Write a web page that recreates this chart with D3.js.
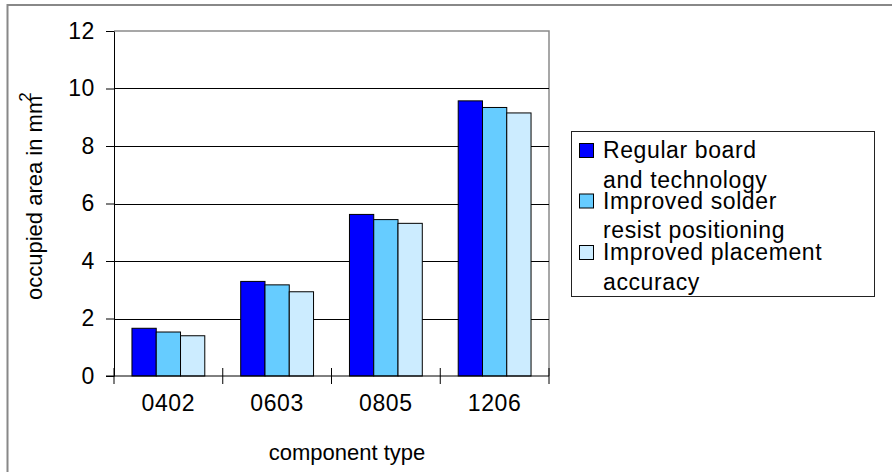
<!DOCTYPE html>
<html>
<head>
<meta charset="utf-8">
<script src="https://cdn.jsdelivr.net/npm/d3@7/dist/d3.min.js"></script>
<style>
  html, body { margin: 0; padding: 0; background: #fff; }
  svg { display: block; font-family: "Liberation Sans", Arial, sans-serif; }
</style>
</head>
<body>
<svg id="chart" width="892" height="472"></svg>
<script>
// Component footprint data (occupied area in mm²)
const categories = ["0402", "0603", "0805", "1206"];
const seriesNames = [
  ["Regular board", "and technology"],
  ["Improved solder", "resist positioning"],
  ["Improved placement", "accuracy"]
];
const regularBoard = [1.66, 3.29, 5.62, 9.57];
const improvedSolder = [1.53, 3.17, 5.44, 9.34];
const improvedPlacement = [1.40, 2.93, 5.31, 9.15];
const yTickValues = [0, 2, 4, 6, 8, 10, 12];
const seriesColors = ["#0000FF", "#66CCFF", "#CCECFF"];

const seriesValues = [regularBoard, improvedSolder, improvedPlacement];
const seriesKeys = ["regular", "solder", "placement"];

const svg = d3.select("#chart");

// Outer chart frame
svg.append("rect")
  .attr("x", 7.5).attr("y", 5)
  .attr("width", 900).attr("height", 480)
  .attr("fill", "#fff")
  .attr("stroke", "#888").attr("stroke-width", 2);

const plot = { left: 114, right: 549, top: 31, bottom: 376 };

const x0 = d3.scaleBand().domain(categories).range([plot.left, plot.right]).padding(0);
const x1 = d3.scaleBand().domain(seriesKeys).range([0, x0.bandwidth()])
  .paddingInner(0).paddingOuter(0.74);
const y = d3.scaleLinear().domain([0, 12]).range([plot.bottom, plot.top]);

// Plot area border (top and right)
svg.append("path")
  .attr("d", `M${plot.left},${y(12)}H${plot.right}V${plot.bottom}`)
  .attr("fill", "none").attr("stroke", "#8a8a8a").attr("stroke-width", 1.5);

// Horizontal gridlines
svg.append("g").selectAll("line")
  .data(yTickValues.filter(v => v > 0 && v < 12))
  .join("line")
  .attr("x1", plot.left).attr("x2", plot.right)
  .attr("y1", d => Math.round(y(d)) + 0.5).attr("y2", d => Math.round(y(d)) + 0.5)
  .attr("stroke", "#000").attr("stroke-width", 1);

// Bars
const groups = svg.append("g").selectAll("g")
  .data(categories)
  .join("g")
  .attr("transform", d => `translate(${x0(d)},0)`);

groups.selectAll("rect")
  .data((c, i) => seriesKeys.map((k, s) => ({ key: k, s, value: seriesValues[s][i] })))
  .join("rect")
  .attr("x", d => x1(d.key))
  .attr("width", x1.bandwidth())
  .attr("y", d => y(d.value))
  .attr("height", d => y(0) - y(d.value))
  .attr("fill", d => seriesColors[d.s])
  .attr("stroke", "#000").attr("stroke-width", 1);

// Y axis
const yAxis = svg.append("g")
  .attr("transform", `translate(${plot.left},0)`)
  .call(d3.axisLeft(y).tickValues(yTickValues).tickSize(8).tickPadding(11).tickSizeOuter(0));
yAxis.select(".domain").attr("stroke", "#000");
yAxis.selectAll(".tick line").attr("stroke", "#000");
yAxis.selectAll(".tick text")
  .attr("font-family", "Liberation Sans, Arial, sans-serif")
  .attr("font-size", 23).attr("letter-spacing", "0.6px").attr("fill", "#000");

// X axis line with crossing category tick marks
svg.append("line")
  .attr("x1", plot.left - 8).attr("x2", plot.right)
  .attr("y1", y(0)).attr("y2", y(0))
  .attr("stroke", "#000").attr("stroke-width", 1);

const boundaries = categories.map(c => x0(c)).concat([plot.right]);
svg.append("g").selectAll("line")
  .data(boundaries)
  .join("line")
  .attr("x1", d => d).attr("x2", d => d)
  .attr("y1", y(0) - 8).attr("y2", y(0) + 8)
  .attr("stroke", "#000").attr("stroke-width", 1);

// Category labels
svg.append("g").selectAll("text")
  .data(categories)
  .join("text")
  .attr("x", d => x0(d) + x0.bandwidth() / 2)
  .attr("y", 411)
  .attr("text-anchor", "middle")
  .attr("font-size", 23).attr("letter-spacing", "0.6px")
  .text(d => d);

// Axis titles
svg.append("text")
  .attr("x", 347).attr("y", 460)
  .attr("text-anchor", "middle")
  .attr("font-size", 22)
  .text("component type");

const yTitle = svg.append("text")
  .attr("transform", "translate(42,300) rotate(-90)")
  .attr("font-size", 22);
yTitle.append("tspan").text("occupied area in mm");
yTitle.append("tspan").attr("dx", -6).attr("dy", -11).attr("font-size", 17).text("2");

// Legend
const legend = svg.append("g");
legend.append("rect")
  .attr("x", 571.5).attr("y", 131.5)
  .attr("width", 303).attr("height", 165)
  .attr("fill", "#fff").attr("stroke", "#222").attr("stroke-width", 1);

const legendBaselines = [158, 208.5, 260];
const items = legend.selectAll("g.item")
  .data(seriesNames)
  .join("g").attr("class", "item");

items.append("rect")
  .attr("x", 579.5).attr("y", (d, i) => legendBaselines[i] - 14.5)
  .attr("width", 14).attr("height", 14)
  .attr("fill", (d, i) => seriesColors[i])
  .attr("stroke", "#000").attr("stroke-width", 1);

items.each(function(lines, i) {
  const t = d3.select(this).append("text")
    .attr("x", 603).attr("y", legendBaselines[i])
    .attr("font-size", 23).attr("letter-spacing", "0.6px");
  lines.forEach((ln, j) => {
    t.append("tspan").attr("x", 603).attr("dy", j === 0 ? 0 : 29.5).text(ln);
  });
});
</script>
</body>
</html>
